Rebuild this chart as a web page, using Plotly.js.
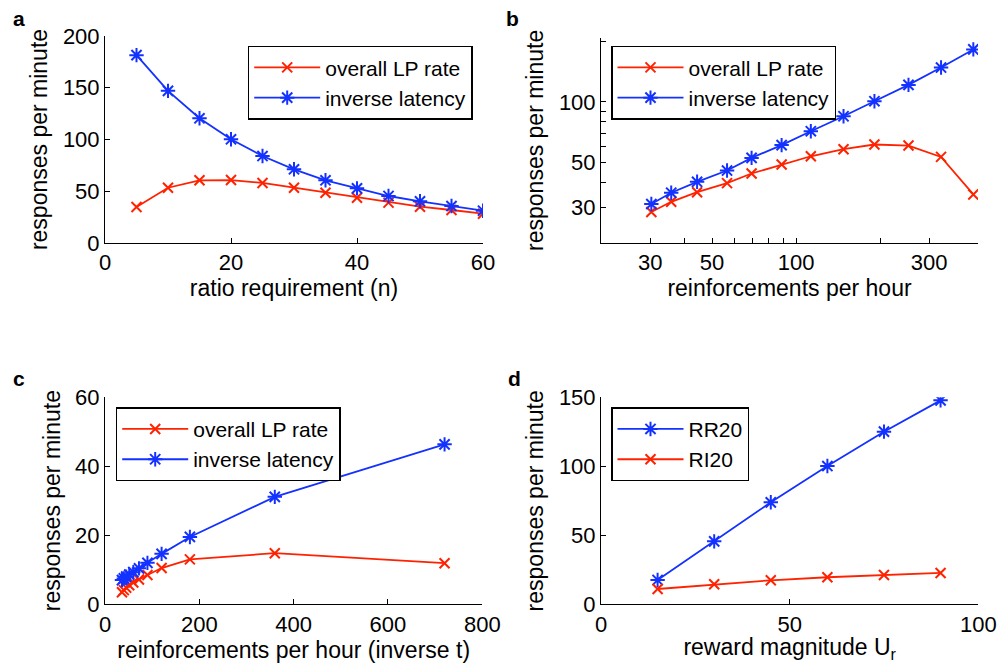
<!DOCTYPE html>
<html>
<head>
<meta charset="utf-8">
<script src="https://cdn.plot.ly/plotly-3.0.1.min.js"></script>
<style>html,body{margin:0;padding:0;background:#fff;}#chart{width:1000px;height:663px;}</style>
</head>
<body>
<div id="chart"></div>
<script>
// Panel a: ratio requirement
const ratioN = [5, 10, 15, 20, 25, 30, 35, 40, 45, 50, 55, 60];
const aLP = [34.8, 53.4, 60.6, 60.8, 58.0, 53.4, 48.6, 43.8, 39.0, 35.1, 31.9, 28.3];
const aInv = [181.5, 147, 120.5, 100.2, 84, 71.2, 60.6, 52.8, 45.4, 40.3, 35.7, 31.2];
// Panel b: log-log
const bRate = [30.3, 35.7, 44.2, 56.6, 69.3, 88.8, 113, 148, 191, 253, 331, 432];
const bLP = [28.5, 32, 35.7, 39.6, 44.2, 49, 53.8, 58.3, 61.5, 60.8, 53.4, 34.8];
const bInv = [31.2, 35.5, 40.2, 45.7, 52.8, 61.1, 71.6, 84.9, 100.8, 121.4, 148, 182];
// Panel c: interval schedules
const cRate = [36, 40, 45, 51.4, 60, 72, 90, 120, 180, 360, 720];
const cLP = [3.5, 4.1, 4.8, 5.5, 6.3, 7.2, 8.5, 10.5, 13.0, 14.8, 11.9];
const cInv = [7.0, 7.5, 8.0, 8.6, 9.3, 10.4, 12.0, 14.6, 19.5, 31.1, 46.3];
// Panel d: reward magnitude
const dU = [15, 30, 45, 60, 75, 90];
const dRR = [17.6, 45.6, 73.9, 100.2, 125.1, 147.8];
const dRI = [11.1, 14.5, 17.4, 19.6, 21.2, 22.7];

const names = ['overall LP rate', 'inverse latency', 'RR20', 'RI20'];
const panelLabels = ['a', 'b', 'c', 'd'];

const RED = '#ff2200';
const BLUE = '#1432ff';
const FONT = 'Liberation Sans, Arial, Helvetica, sans-serif';

function redTrace(x, y, name, xa, ya, lg) {
  return {x: x, y: y, name: name, xaxis: xa, yaxis: ya, legend: lg, type: 'scatter', mode: 'lines+markers',
    line: {color: RED, width: 1.8},
    marker: {symbol: 'x-thin-open', size: 10, color: RED, line: {color: RED, width: 2}}};
}
function blueTrace(x, y, name, xa, ya, lg) {
  return {x: x, y: y, name: name, xaxis: xa, yaxis: ya, legend: lg, type: 'scatter', mode: 'lines+markers',
    line: {color: BLUE, width: 1.8},
    marker: {symbol: 'asterisk-open', size: 12, color: BLUE, line: {color: BLUE, width: 2}}};
}

const data = [
  redTrace(ratioN, aLP, names[0], 'x', 'y', 'legend'),
  blueTrace(ratioN, aInv, names[1], 'x', 'y', 'legend'),
  redTrace(bRate, bLP, names[0], 'x2', 'y2', 'legend2'),
  blueTrace(bRate, bInv, names[1], 'x2', 'y2', 'legend2'),
  redTrace(cRate, cLP, names[0], 'x3', 'y3', 'legend3'),
  blueTrace(cRate, cInv, names[1], 'x3', 'y3', 'legend3'),
  blueTrace(dU, dRR, names[2], 'x4', 'y4', 'legend4'),
  redTrace(dU, dRI, names[3], 'x4', 'y4', 'legend4')
];

const FS = 22;
const TFS = 23;
const tickFont = {family: FONT, size: FS, color: '#000'};
function ax(extra) {
  return Object.assign({
    showline: true, linecolor: '#000', linewidth: 1, mirror: false,
    ticks: 'inside', ticklen: 5, tickwidth: 1, tickcolor: '#000',
    showgrid: false, zeroline: false, tickfont: tickFont, automargin: false,
    fixedrange: true
  }, extra);
}
function xtitle(t) { return {text: t, font: {family: FONT, size: TFS, color: '#000'}, standoff: 1}; }
function ytitle(t) { return {text: t, font: {family: FONT, size: TFS, color: '#000'}, standoff: 8}; }

const ylab = 'responses per minute';
function legendAt(x, y) {
  return {x: x, y: y, xanchor: 'left', yanchor: 'top', xref: 'paper', yref: 'paper',
    bgcolor: '#fff', bordercolor: '#000', borderwidth: 1.5,
    font: {family: FONT, size: 21, color: '#000'}, itemwidth: 66, tracegroupgap: 0};
}

const H = 663;
function fy(py) { return (H - py) / H; }

const labFont = {family: FONT, size: 21, color: '#000'};
const layout = {
  width: 1000, height: 663,
  margin: {l: 0, r: 0, t: 0, b: 0},
  paper_bgcolor: '#fff', plot_bgcolor: '#fff',
  font: {family: FONT, color: '#000'},
  xaxis: ax({domain: [0.105, 0.483], anchor: 'y', range: [0, 60], tickvals: [0, 20, 40, 60], title: xtitle('ratio requirement (n)')}),
  yaxis: ax({domain: [fy(243), fy(36)], anchor: 'x', range: [0, 200], tickvals: [0, 50, 100, 150, 200], title: ytitle(ylab)}),
  xaxis2: ax({domain: [0.601, 0.978], anchor: 'y2', type: 'log', range: [Math.log10(20), Math.log10(449)],
    tickmode: 'array', tickvals: [30, 50, 100, 300], ticktext: ['30', '50', '100', '300'],
    minor: {tickmode: 'array', tickvals: [40, 60, 70, 80, 90, 200], ticks: 'inside', ticklen: 5, tickcolor: '#000', tickwidth: 1, showgrid: false},
    title: xtitle('reinforcements per hour')}),
  yaxis2: ax({domain: [fy(243), fy(37.7)], anchor: 'x2', type: 'log', range: [Math.log10(20), Math.log10(208)],
    tickmode: 'array', tickvals: [30, 50, 100], ticktext: ['30', '50', '100'],
    minor: {tickmode: 'array', tickvals: [40, 60, 70, 80, 90, 200], ticks: 'inside', ticklen: 5, tickcolor: '#000', tickwidth: 1, showgrid: false},
    title: ytitle(ylab)}),
  xaxis3: ax({domain: [0.105, 0.4823], anchor: 'y3', range: [0, 800], tickvals: [0, 200, 400, 600, 800], title: xtitle('reinforcements per hour (inverse t)')}),
  yaxis3: ax({domain: [fy(604.3), fy(397)], anchor: 'x3', range: [0, 60], tickvals: [0, 20, 40, 60], title: ytitle(ylab)}),
  xaxis4: ax({domain: [0.601, 0.9783], anchor: 'y4', range: [0, 100], tickvals: [0, 50, 100], title: xtitle('reward magnitude U<sub>r</sub>')}),
  yaxis4: ax({domain: [fy(604.3), fy(397.3)], anchor: 'x4', range: [0, 150], tickvals: [0, 50, 100, 150], title: ytitle(ylab)}),
  legend: legendAt(0.2477, fy(45.7)),
  legend2: legendAt(0.611, fy(45.7)),
  legend3: legendAt(0.1157, fy(407.3)),
  legend4: legendAt(0.611, fy(407.3)),
  showlegend: true,
  annotations: [
    {text: '<b>' + panelLabels[0] + '</b>', x: 11 / 1000, y: fy(5), xref: 'paper', yref: 'paper', xanchor: 'left', yanchor: 'top', showarrow: false, font: labFont},
    {text: '<b>' + panelLabels[1] + '</b>', x: 504 / 1000, y: fy(5), xref: 'paper', yref: 'paper', xanchor: 'left', yanchor: 'top', showarrow: false, font: labFont},
    {text: '<b>' + panelLabels[2] + '</b>', x: 11 / 1000, y: fy(365), xref: 'paper', yref: 'paper', xanchor: 'left', yanchor: 'top', showarrow: false, font: labFont},
    {text: '<b>' + panelLabels[3] + '</b>', x: 506 / 1000, y: fy(365), xref: 'paper', yref: 'paper', xanchor: 'left', yanchor: 'top', showarrow: false, font: labFont}
  ]
};

Plotly.newPlot('chart', data, layout, {displayModeBar: false, staticPlot: true});
</script>
</body>
</html>
